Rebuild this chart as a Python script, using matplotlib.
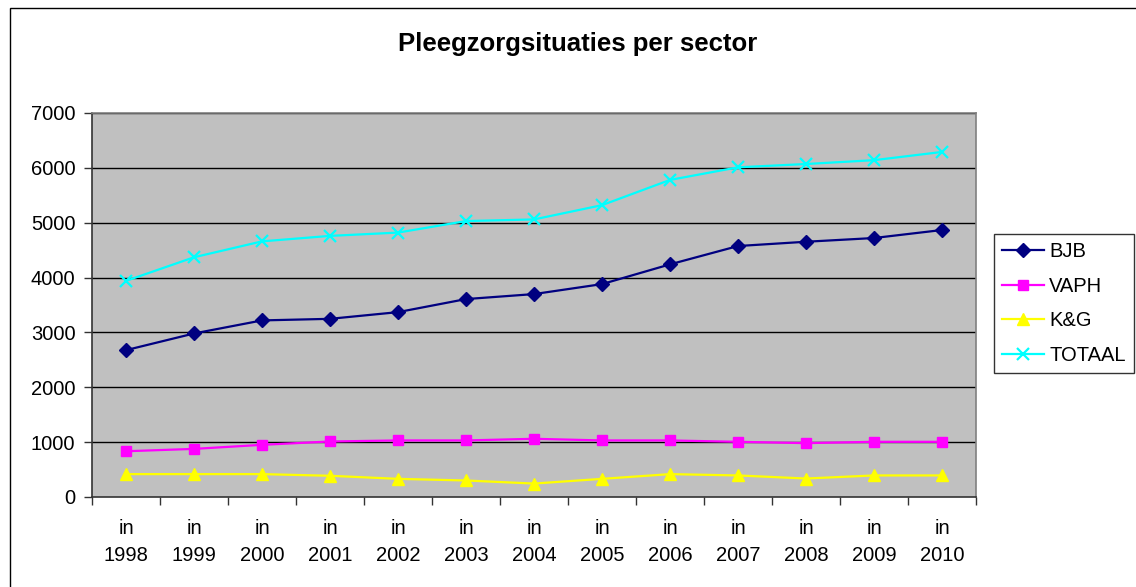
import matplotlib
matplotlib.use("Agg")
import matplotlib.pyplot as plt
from matplotlib.patches import Rectangle
import numpy as np

plt.rcParams['font.family'] = ['Liberation Sans', 'DejaVu Sans']

years = ["1998", "1999", "2000", "2001", "2002", "2003", "2004",
         "2005", "2006", "2007", "2008", "2009", "2010"]
tick_labels = ["in\n" + y for y in years]
bjb = [2677, 2981, 3219, 3248, 3370, 3608, 3699, 3881, 4241, 4575, 4653, 4721, 4867]
vaph = [834, 877, 951, 1012, 1031, 1031, 1061, 1031, 1031, 1006, 982, 1006, 1006]
kg = [417, 417, 417, 387, 331, 301, 245, 331, 417, 393, 337, 393, 393]
totaal = [3940, 4370, 4660, 4760, 4820, 5030, 5060, 5320, 5780, 6010, 6070, 6140, 6290]
yticks = [0, 1000, 2000, 3000, 4000, 5000, 6000, 7000]

W, H = 1136, 587
fig = plt.figure(figsize=(W / 100, H / 100), dpi=100)
fig.patch.set_facecolor("white")

# outer chart border
fig.patches.append(Rectangle((10 / W, -0.05), 1.2, 1 - 8 / H + 0.05,
                             transform=fig.transFigure, fill=False,
                             edgecolor="black", linewidth=1.0))

ax = fig.add_axes([92 / W, 1 - 497 / H, (976 - 92) / W, (497 - 113) / H])
ax.set_facecolor("#C0C0C0")

x = np.arange(len(years))
ax.plot(x, bjb, color="#000080", marker="D", markersize=7, linewidth=1.6, label="BJB")
ax.plot(x, vaph, color="#FF00FF", marker="s", markersize=7, linewidth=1.6, label="VAPH")
ax.plot(x, kg, color="#FFFF00", marker="^", markersize=8.5, linewidth=1.6, label="K&G")
ax.plot(x, totaal, color="#00FFFF", marker="x", markersize=9, markeredgewidth=1.6,
        linewidth=1.6, label="TOTAAL")

ax.set_xlim(-0.5, len(years) - 0.5)
ax.set_ylim(0, 7000)
ax.set_yticks(yticks)
ax.set_yticklabels([str(v) for v in yticks])
for v in yticks[1:]:
    ax.axhline(v, color="black", linewidth=1.0, zorder=0.5)

ax.set_xticks(x)
ax.set_xticklabels(tick_labels, linespacing=1.55)
ax.set_xticks(np.arange(-0.5, len(years), 1.0), minor=True)
ax.tick_params(axis="x", which="major", length=0, pad=16, labelsize=14.5)
ax.tick_params(axis="x", which="minor", length=6, width=1, color="#333333", direction="out")
ax.tick_params(axis="y", length=6, width=1, color="#333333", direction="out", pad=6, labelsize=14.5)

for s in ["top", "right"]:
    ax.spines[s].set_color("#808080")
    ax.spines[s].set_linewidth(1.2)
for s in ["left", "bottom"]:
    ax.spines[s].set_color("#333333")
    ax.spines[s].set_linewidth(1.2)

fig.text(578 / W, 1 - 44 / H, "Pleegzorgsituaties per sector", ha="center", va="center",
         fontsize=18.5, fontweight="bold")

leg = fig.legend(loc="upper left", bbox_to_anchor=(994 / W, 1 - 234 / H),
                 fontsize=14.5, frameon=True, fancybox=False,
                 edgecolor="black", borderaxespad=0, handlelength=2.1,
                 labelspacing=0.78, borderpad=0.4, handletextpad=0.25)
leg.get_frame().set_linewidth(1.0)

fig.savefig("out.png", dpi=100)
